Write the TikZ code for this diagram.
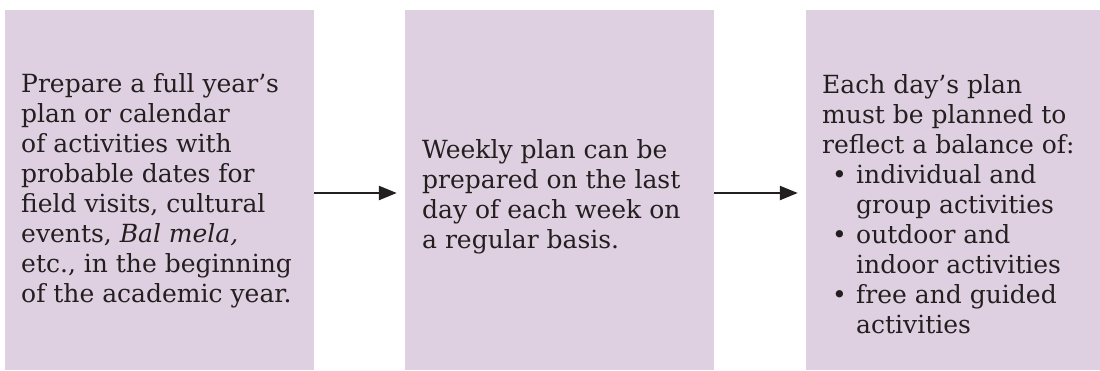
\documentclass[tikz,border=0pt]{standalone}
\usepackage{fontspec}
\setmainfont{DejaVu Serif}
\usetikzlibrary{arrows.meta}
\definecolor{panel}{RGB}{222,208,224}
\definecolor{ink}{RGB}{35,31,32}
\tikzset{
  panelbox/.style={fill=panel, draw=none, inner sep=0pt, minimum height=360pt},
  bodytext/.style={anchor=north west, inner sep=0pt, align=left, text=ink,
    font=\fontsize{25}{30}\selectfont},
  flow/.style={draw=ink, line width=2.4pt, -{Triangle[length=18pt,width=14pt]}},
}
\newcommand{\bul}{\makebox[34pt][l]{\hspace{10pt}\textbullet}}
\newcommand{\hang}{\hspace*{34pt}}
\begin{document}
\begin{tikzpicture}[x=1pt, y=-1pt]
  \useasboundingbox (0,0) rectangle (1100,370);
  % three panels
  \node[panelbox, minimum width=309pt] (p1) at (159.5,190) {};
  \node[panelbox, minimum width=309pt] (p2) at (559.5,190) {};
  \node[panelbox, minimum width=294pt] (p3) at (953,190) {};
  % panel texts
  \node[bodytext] (t1) at (21,71) {\strut Prepare a full year’s\\
    plan or calendar\\
    of activities with\\
    probable dates for\\
    field visits, cultural\\
    events, \textit{Bal mela,}\\
    etc., in the beginning\\
    of the academic year.};
  \node[bodytext] (t2) at (422,137) {\strut Weekly plan can be\\
    prepared on the last\\
    day of each week on\\
    a regular basis.};
  \node[bodytext] (t3) at (822,72) {\strut Each day’s plan\\
    must be planned to\\
    reflect a balance of:\\
    \bul individual and\\
    \hang group activities\\
    \bul outdoor and\\
    \hang indoor activities\\
    \bul free and guided\\
    \hang activities};
  % connectors
  \draw[flow] ([yshift=-3pt]p1.east) -- ([xshift=-8pt,yshift=-3pt]p2.west);
  \draw[flow] ([yshift=-3pt]p2.east) -- ([xshift=-8pt,yshift=-3pt]p3.west);
\end{tikzpicture}
\end{document}
